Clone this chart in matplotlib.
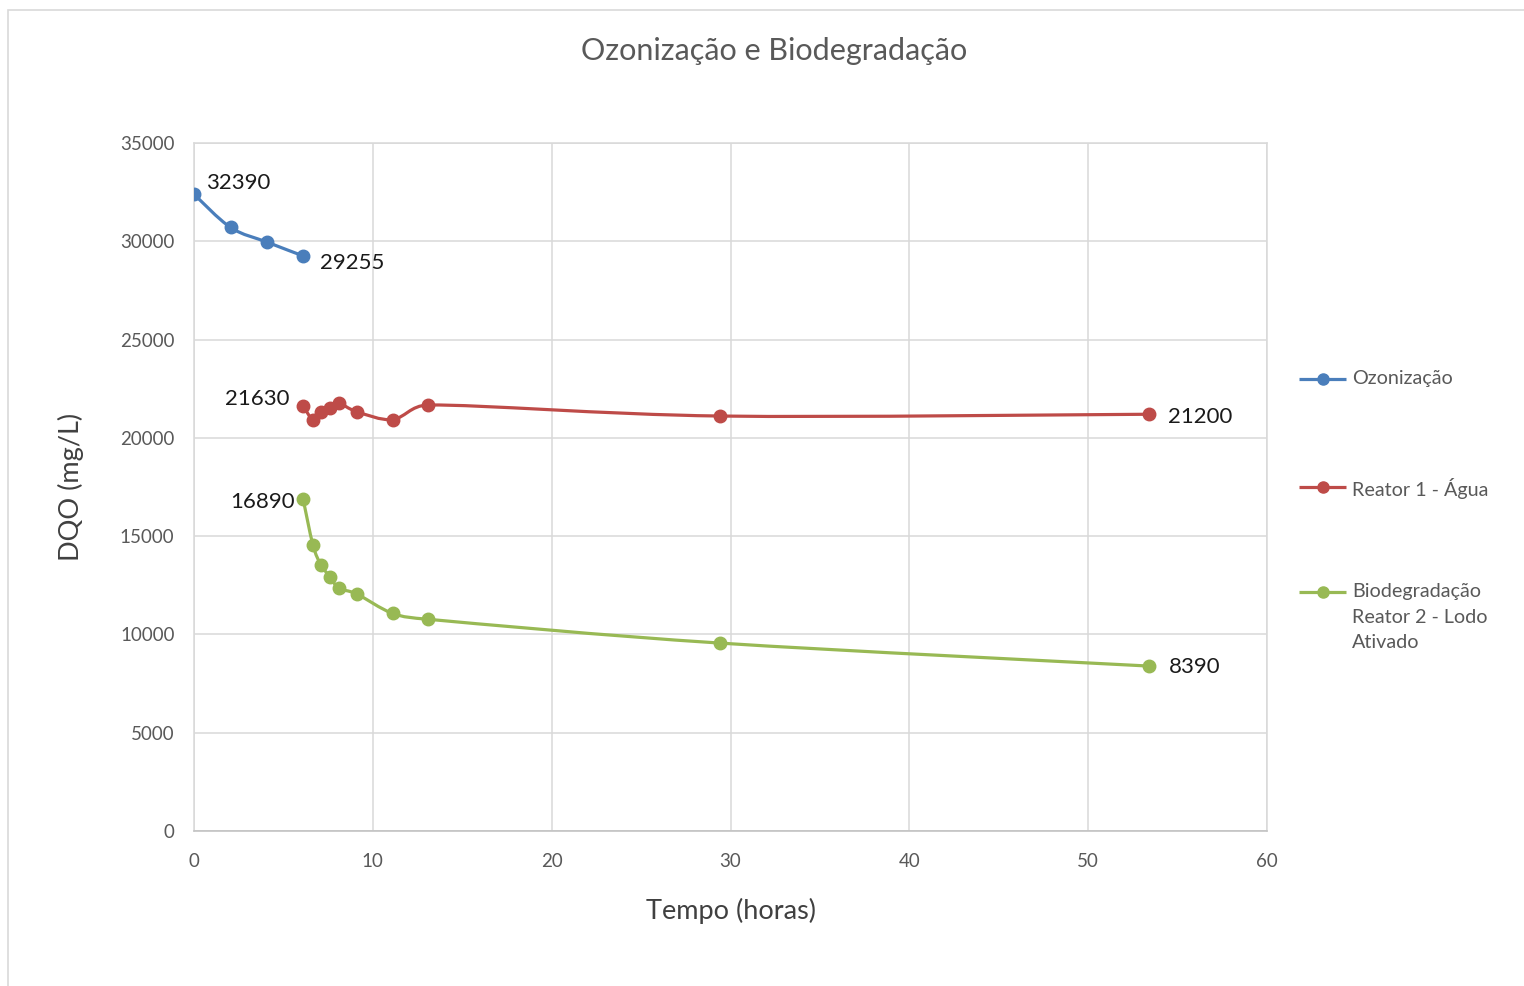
import numpy as np
import matplotlib
matplotlib.use("Agg")
from matplotlib import pyplot as plt
from matplotlib.path import Path
from matplotlib.patches import PathPatch, Rectangle
from matplotlib.lines import Line2D

plt.rcParams['font.family'] = ['Lato', 'DejaVu Sans']

# tempo (horas) e DQO (mg/L)
t_ozon = [0, 2.05, 4.1, 6.1]
dqo_ozon = [32390, 30700, 29950, 29255]

t_bio = [6.1, 6.65, 7.1, 7.6, 8.1, 9.1, 11.1, 13.1, 29.4, 53.4]
dqo_reator1 = [21630, 20930, 21290, 21520, 21760, 21330, 20930, 21670, 21110, 21200]
dqo_reator2 = [16890, 14550, 13530, 12940, 12350, 12060, 11070, 10770, 9560, 8390]

labels = ['Ozonização', 'Reator 1 - Água', 'Biodegradação\nReator 2 - Lodo\nAtivado']
colors = ['#4a7ebb', '#be4b48', '#98b954']

gray = '#595959'


def handle(d, seg_dx):
    # keep the bezier handle from reaching back past the segment (no loops)
    lim = abs(seg_dx) / 2.0
    if abs(d[0]) > lim and d[0] != 0:
        d = d * (lim / abs(d[0]))
    return d


def smooth_path(x, y):
    # bezier segments built like a catmull-rom spline (excel "smoothed line")
    pts = np.column_stack([x, y]).astype(float)
    n = len(pts)
    verts = [pts[0]]
    codes = [Path.MOVETO]
    for i in range(n - 1):
        p0 = pts[i - 1] if i > 0 else pts[i]
        p1 = pts[i]
        p2 = pts[i + 1]
        p3 = pts[i + 2] if i + 2 < n else pts[i + 1]
        dx = p2[0] - p1[0]
        c1 = p1 + handle((p2 - p0) / 6.0, dx)
        c2 = p2 - handle((p3 - p1) / 6.0, dx)
        verts += [c1, c2, p2]
        codes += [Path.CURVE4] * 3
    return Path(verts, codes)


fig = plt.figure(figsize=(15.24, 9.86), dpi=100)
ax = fig.add_axes([0.1273, 0.1572, 0.7041, 0.6978])

# light frame around the chart area
fig.patches.append(Rectangle((8 / 1524, -0.01), 1.0, 1 - 10 / 986 + 0.01,
                             transform=fig.transFigure, fill=False,
                             edgecolor='#d9d9d9', linewidth=1.2))

series = [(t_ozon, dqo_ozon), (t_bio, dqo_reator1), (t_bio, dqo_reator2)]
for (x, y), c in zip(series, colors):
    ax.add_patch(PathPatch(smooth_path(x, y), fill=False, edgecolor=c,
                           linewidth=2.3, zorder=3, capstyle='round'))
    ax.plot(x, y, linestyle='none', marker='o', markersize=9,
            color=c, zorder=4)

ax.set_xlim(0, 60)
ax.set_ylim(0, 35000)
ax.set_xticks(np.arange(0, 61, 10))
ax.set_yticks(np.arange(0, 35001, 5000))
ax.grid(True, color='#d9d9d9', linewidth=1.1)
ax.set_axisbelow(True)
for s in ax.spines.values():
    s.set_color('#d9d9d9')
    s.set_linewidth(1.1)
ax.spines['bottom'].set_color('#bfbfbf')
ax.tick_params(length=0, labelsize=13.5, labelcolor=gray)
ax.tick_params(axis='x', pad=16)
ax.tick_params(axis='y', pad=14)

fig.text(774 / 1524, 1 - 51 / 986, 'Ozonização e Biodegradação',
         fontsize=22, color=gray, ha='center', va='center')
ax.set_xlabel('Tempo (horas)', fontsize=19.5, color='#404040', labelpad=20)
ax.set_ylabel('DQO (mg/L)', fontsize=19.5, color='#404040', labelpad=26)

# value labels on first/last points
lab = dict(fontsize=16, color='#1a1a1a')
ax.annotate(f'{dqo_ozon[0]}', (t_ozon[0], dqo_ozon[0]), xytext=(9, 1),
            textcoords='offset points', ha='left', va='bottom', **lab)
ax.annotate(f'{dqo_ozon[-1]}', (t_ozon[-1], dqo_ozon[-1]), xytext=(12, -5),
            textcoords='offset points', ha='left', va='center', **lab)
ax.annotate(f'{dqo_reator1[0]}', (t_bio[0], dqo_reator1[0]), xytext=(-10, 5),
            textcoords='offset points', ha='right', va='center', **lab)
ax.annotate(f'{dqo_reator1[-1]}', (t_bio[-1], dqo_reator1[-1]), xytext=(14, -2),
            textcoords='offset points', ha='left', va='center', **lab)
ax.annotate(f'{dqo_reator2[0]}', (t_bio[0], dqo_reator2[0]), xytext=(-6, -2),
            textcoords='offset points', ha='right', va='center', **lab)
ax.annotate(f'{dqo_reator2[-1]}', (t_bio[-1], dqo_reator2[-1]), xytext=(14, -1),
            textcoords='offset points', ha='left', va='center', **lab)

# legend drawn by hand so the marker sits on the first text line
leg_y = [1 - 379 / 986, 1 - 487 / 986, 1 - 592 / 986]
for lbl, c, yy in zip(labels, colors, leg_y):
    fig.add_artist(Line2D([1299 / 1524, 1346 / 1524], [yy, yy],
                          transform=fig.transFigure, color=c, linewidth=2.3,
                          solid_capstyle='butt'))
    fig.add_artist(Line2D([1323 / 1524], [yy], transform=fig.transFigure,
                          color=c, marker='o', markersize=8))
    fig.text(1352 / 1524, yy + 9 / 986, lbl, fontsize=14.2, color=gray,
             ha='left', va='top', linespacing=1.62)

fig.savefig('out.png', dpi=100, facecolor='white')
